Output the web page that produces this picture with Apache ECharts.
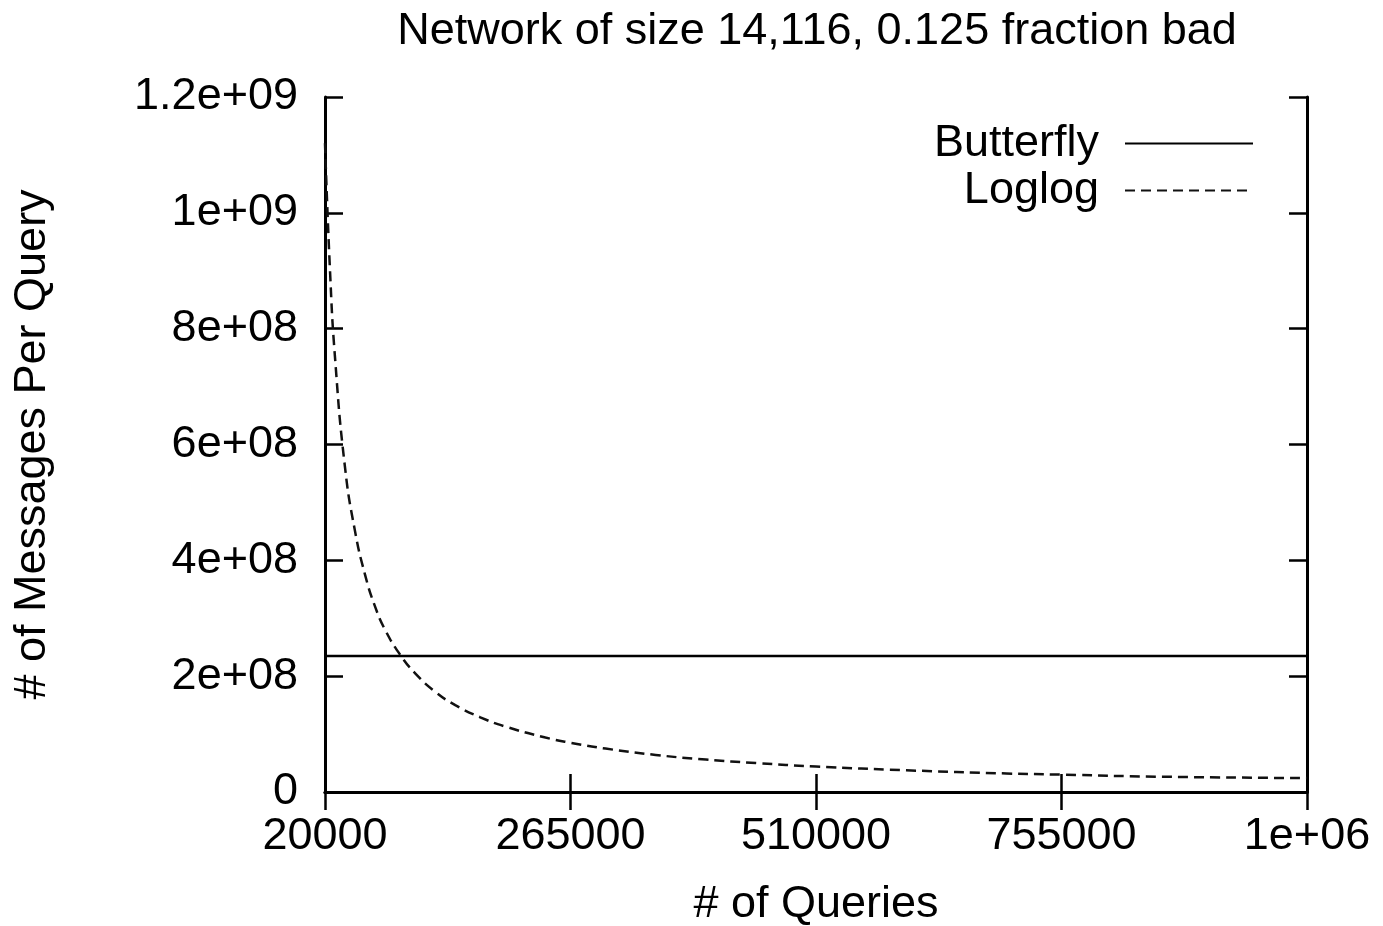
<!DOCTYPE html>
<html>
<head>
<meta charset="utf-8">
<script src="https://cdn.jsdelivr.net/npm/echarts@6/dist/echarts.min.js"></script>
<style>
  html, body { margin: 0; padding: 0; background: #fff; }
  #chart { width: 1383px; height: 926px; }
</style>
</head>
<body>
<div id="chart"></div>
<script>
// data
var xTicks = [20000, 265000, 510000, 755000, 1000000]
var yTicks = [0, 2e8, 4e8, 6e8, 8e8, 1e9, 1.2e9]
var butterflyX = [20000, 1000000]
var butterflyY = [2.35e8, 2.35e8]
var loglogX = [20000, 25000, 30000, 40000, 50000, 60000, 70000, 80000, 95000, 110000,
  130000, 150000, 175000, 200000, 240000, 265000, 300000, 350000, 400000, 450000,
  510000, 600000, 700000, 755000, 850000, 1000000]
var loglogY = [1.12e9, 9.0e8, 7.5e8, 5.6e8, 4.5e8, 3.75e8, 3.2e8, 2.8e8, 2.37e8, 2.05e8,
  1.73e8, 1.5e8, 1.29e8, 1.13e8, 9.4e7, 8.5e7, 7.5e7, 6.4e7, 5.6e7, 5.0e7,
  4.4e7, 3.75e7, 3.2e7, 3.0e7, 2.65e7, 2.4e7]

var font = 'Liberation Sans, Arial, sans-serif'
var fs = 45

function expLabel(v) {
  if (v === 0) return '0'
  if (v < 1e6) return String(v)
  var s = v.toExponential() // e.g. 1.2e+9
  var parts = s.split('e')
  var sign = parts[1].charAt(0)
  var num = parts[1].slice(1)
  if (num.length < 2) num = '0' + num
  return parts[0] + 'e' + sign + num
}

function pairs(xs, ys) {
  var out = []
  for (var i = 0; i < xs.length; i++) out.push([xs[i], ys[i]])
  return out
}

// tick marks point into the plot, like gnuplot
function ticks(values) {
  var t = { show: true, inside: true, length: 18, lineStyle: { color: '#000', width: 2.5 } }
  if (values) t.customValues = values
  return t
}

var chart = echarts.init(document.getElementById('chart'))

var lineStyleAxis = { color: '#000', width: 3 }

var option = {
  animation: false,
  title: {
    text: 'Network of size 14,116, 0.125 fraction bad',
    left: 812,
    textAlign: 'center',
    top: 4,
    textStyle: { fontFamily: font, fontSize: fs, fontWeight: 'normal', color: '#000' }
  },
  legend: {
    orient: 'vertical',
    right: 124,
    top: 116,
    align: 'right',
    itemWidth: 128,
    itemHeight: 14,
    itemGap: 2,
    itemStyle: { opacity: 0 },
    textStyle: { fontFamily: font, fontSize: fs, color: '#000', padding: [0, 21, 0, 0] },
    data: ['Butterfly', 'Loglog']
  },
  grid: { left: 325, right: 76, top: 97, bottom: 134, outerBoundsMode: 'none' },
  xAxis: [{
    type: 'value',
    min: 20000,
    max: 1000000,
    name: '# of Queries',
    nameLocation: 'middle',
    nameGap: 90,
    nameTextStyle: { fontFamily: font, fontSize: fs, color: '#000' },
    axisLine: { show: true, lineStyle: lineStyleAxis },
    axisTick: ticks(xTicks),
    axisLabel: {
      customValues: xTicks,
      formatter: expLabel,
      margin: 22,
      fontFamily: font,
      fontSize: fs,
      color: '#000',
      showMaxLabel: true,
      showMinLabel: true
    },
    splitLine: { show: false }
  }, {
    type: 'value',
    position: 'top',
    min: 20000,
    max: 1000000,
    axisLine: { show: true, lineStyle: lineStyleAxis },
    axisTick: ticks(xTicks),
    axisLabel: { show: false },
    splitLine: { show: false }
  }],
  yAxis: [{
    type: 'value',
    min: 0,
    max: 1.2e9,
    interval: 2e8,
    name: '# of Messages Per Query',
    nameLocation: 'middle',
    nameGap: 270,
    nameTextStyle: { fontFamily: font, fontSize: fs, color: '#000' },
    axisLine: { show: true, lineStyle: lineStyleAxis },
    axisTick: ticks(yTicks),
    axisLabel: {
      customValues: yTicks,
      formatter: expLabel,
      margin: 27,
      fontFamily: font,
      fontSize: fs,
      color: '#000'
    },
    splitLine: { show: false }
  }, {
    type: 'value',
    position: 'right',
    min: 0,
    max: 1.2e9,
    interval: 2e8,
    axisLine: { show: true, lineStyle: lineStyleAxis },
    axisTick: ticks(yTicks),
    axisLabel: { show: false },
    splitLine: { show: false }
  }],
  series: [{
    name: 'Butterfly',
    type: 'line',
    symbol: 'none',
    lineStyle: { color: '#000', width: 2.5, type: 'solid' },
    itemStyle: { color: '#000' },
    data: pairs(butterflyX, butterflyY)
  }, {
    name: 'Loglog',
    type: 'line',
    symbol: 'none',
    smooth: true,
    lineStyle: { color: '#111', width: 2.5, type: [10, 6] },
    itemStyle: { color: '#111' },
    data: pairs(loglogX, loglogY)
  }]
}

chart.setOption(option)
window.addEventListener('resize', function() {
  chart.resize()
})
</script>
</body>
</html>
